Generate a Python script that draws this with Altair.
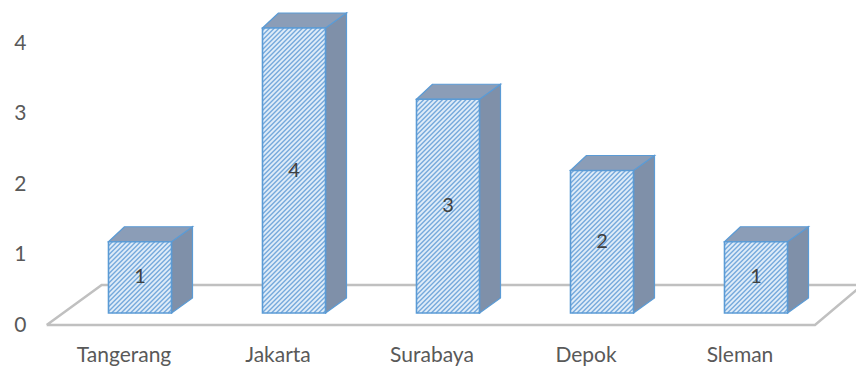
import altair as alt
import pandas as pd

CATEGORIES = ["Tangerang", "Jakarta", "Surabaya", "Depok", "Sleman"]
VALUES = [1, 4, 3, 2, 1]
Y_TICKS = [0, 1, 2, 3, 4]

# ---- layout (pixels) ----
LEFT, TOP, W, H = 63, 28, 770, 285
RIGHT = 856 - LEFT - W
BOTTOM = 369 - TOP - H
PX_CAT = W / len(CATEGORIES)          # px per category step
PX_UNIT = H / 4.0                     # px per value unit (bars)

HALF_W = 31.5 / PX_CAT                # half width of bar front face
DX_R = 21 / PX_CAT                    # depth offset, right edge
DX_L = 16 / PX_CAT                    # depth offset, left edge
DY = 15 / PX_UNIT                     # depth offset, vertical
HATCH = 4.7                           # hatch period (px)
LABEL_SHIFT = -16 / PX_CAT            # category labels sit left of bar centres
LABEL_Y = -43 / PX_UNIT               # category labels below the floor

FONT = "Lato"
EDGE = "#5b9bd5"
FRONT_FILL = "#dfecf8"
HATCH_COLOR = "#76a9dc"
SIDE_FILL = "#7f90a9"
TOP_FILL = "#8b9db7"
FLOOR = "#c0c0c0"
TEXT = "#595959"

n = len(CATEGORIES)

# ---- derived tables ----
front = pd.DataFrame({
    "cat": CATEGORIES,
    "v": VALUES,
    "x0": [i - HALF_W for i in range(n)],
    "x1": [i + HALF_W for i in range(n)],
    "xc": list(range(n)),
    "xl": [i + LABEL_SHIFT for i in range(n)],
    "yl": LABEL_Y,
    "zero": 0.0,
    "mid": [v / 2 for v in VALUES],
})

side_rows, top_rows, hatch_rows = [], [], []
for i, (c, v) in enumerate(zip(CATEGORIES, VALUES)):
    side_rows.append({"cat": c, "x": i + HALF_W, "lo": 0.0, "hi": v})
    side_rows.append({"cat": c, "x": i + HALF_W + DX_R, "lo": DY, "hi": v + DY})
    top_rows.append({"cat": c, "y": v, "xa": i - HALF_W, "xb": i + HALF_W})
    top_rows.append({"cat": c, "y": v + DY, "xa": i - HALF_W + DX_L, "xb": i + HALF_W + DX_R})
    # diagonal hatching of the front face, computed from the bar rectangle
    a = (i - HALF_W + 0.5) * PX_CAT
    b = (i + HALF_W + 0.5) * PX_CAT
    t = (4 - v) * PX_UNIT
    btm = 4 * PX_UNIT
    k = int((a + t) // HATCH) + 1
    while k * HATCH < b + btm:
        cc = k * HATCH
        ylo = max(t, cc - b)
        yhi = min(btm, cc - a)
        if yhi - ylo > 0.5:
            hatch_rows.append({
                "hx": (cc - ylo) / PX_CAT - 0.5, "hy": 4 - ylo / PX_UNIT,
                "hx2": (cc - yhi) / PX_CAT - 0.5, "hy2": 4 - yhi / PX_UNIT,
            })
        k += 1
side = pd.DataFrame(side_rows)
top = pd.DataFrame(top_rows)
hatch = pd.DataFrame(hatch_rows)

# floor polygon in axis units (x: category index, y: axis value)
FLOOR_BACK_Y = 0.567
floor = pd.DataFrame({
    "fx": [-0.606, 4.383, 4.69, -0.249, -0.606],
    "fy": [0.0, 0.0, FLOOR_BACK_Y, FLOOR_BACK_Y, 0.0],
    "o": [0, 1, 2, 3, 4],
})

xscale = alt.Scale(domain=[-0.5, n - 0.5], nice=False, zero=False)
bar_y = alt.Scale(domain=[0, 4], nice=False, zero=False)
axis_y = alt.Scale(domain=[0, 4], range=[H + 12, 15], nice=False, zero=False)

y_axis = alt.Axis(values=Y_TICKS, domain=False, ticks=False, grid=False, title=None,
                  labelFont=FONT, labelFontSize=21, labelColor=TEXT, labelPadding=37)

floor_layer = alt.Chart(floor).mark_line(color=FLOOR, strokeWidth=2.5).encode(
    x=alt.X("fx:Q", scale=xscale, axis=None),
    y=alt.Y("fy:Q", scale=axis_y, axis=y_axis),
    order="o:O",
)

side_layer = alt.Chart(side).mark_area(
    orient="vertical", fill=SIDE_FILL, stroke=EDGE, strokeWidth=1.2, opacity=1
).encode(
    x=alt.X("x:Q", scale=xscale, axis=None),
    y=alt.Y("hi:Q", scale=bar_y, axis=None),
    y2="lo:Q",
    detail="cat:N",
)

top_layer = alt.Chart(top).mark_area(
    orient="horizontal", fill=TOP_FILL, stroke=EDGE, strokeWidth=1.2, opacity=1
).encode(
    y=alt.Y("y:Q", scale=bar_y, axis=None),
    x=alt.X("xa:Q", scale=xscale, axis=None),
    x2="xb:Q",
    detail="cat:N",
)

front_layer = alt.Chart(front).mark_rect(fill=FRONT_FILL).encode(
    x=alt.X("x0:Q", scale=xscale, axis=None),
    x2="x1:Q",
    y=alt.Y("zero:Q", scale=bar_y, axis=None),
    y2="v:Q",
)

hatch_layer = alt.Chart(hatch).mark_rule(color=HATCH_COLOR, strokeWidth=1.4).encode(
    x=alt.X("hx:Q", scale=xscale, axis=None),
    x2="hx2:Q",
    y=alt.Y("hy:Q", scale=bar_y, axis=None),
    y2="hy2:Q",
)

outline_layer = alt.Chart(front).mark_rect(
    fillOpacity=0, stroke=EDGE, strokeWidth=1.6
).encode(
    x=alt.X("x0:Q", scale=xscale, axis=None),
    x2="x1:Q",
    y=alt.Y("zero:Q", scale=bar_y, axis=None),
    y2="v:Q",
)

text_layer = alt.Chart(front).mark_text(
    font=FONT, fontSize=20, color="#404040", baseline="middle", align="center"
).encode(
    x=alt.X("xc:Q", scale=xscale, axis=None),
    y=alt.Y("mid:Q", scale=bar_y, axis=None),
    text="v:Q",
)

cat_layer = alt.Chart(front).mark_text(
    font=FONT, fontSize=21, color=TEXT, baseline="middle", align="center"
).encode(
    x=alt.X("xl:Q", scale=xscale, axis=None),
    y=alt.Y("yl:Q", scale=bar_y, axis=None),
    text="cat:N",
)

chart = alt.layer(
    floor_layer, side_layer, top_layer, front_layer, hatch_layer,
    outline_layer, text_layer, cat_layer
).resolve_scale(y="independent").properties(
    width=W, height=H,
    autosize=alt.AutoSizeParams(type="none"),
    padding={"left": LEFT, "top": TOP, "right": RIGHT, "bottom": BOTTOM},
    background="white",
).configure_view(stroke=None)

chart.save("out.html", embed_options={"renderer": "svg", "actions": False})
